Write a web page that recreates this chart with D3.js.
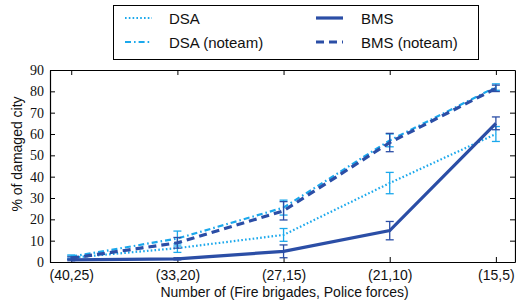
<!DOCTYPE html>
<html>
<head>
<meta charset="utf-8">
<script src="https://cdn.jsdelivr.net/npm/d3@7"></script>
<style>
  body { margin: 0; background: white; }
  svg { display: block; }
</style>
</head>
<body>
<div id="chart"></div>
<script>
// categories on the x axis
var categories = ["(40,25)", "(33,20)", "(27,15)", "(21,10)", "(15,5)"];
var yTicks = [0, 10, 20, 30, 40, 50, 60, 70, 80, 90];

// series values and their error bars
var dsa = [2, 6.5, 12.7, 37, 60];
var dsaErr = [0.8, 2, 3, 5, 3.5];
var dsaNoteam = [2.5, 11, 25.5, 57, 82];
var dsaNoteamErr = [0.8, 3.5, 3.5, 3, 1.5];
var bms = [1, 1.5, 5, 14.7, 65];
var bmsErr = [0.4, 0.5, 3, 4.3, 3];
var bmsNoteam = [1.8, 9, 24, 56, 81.4];
var bmsNoteamErr = [0.6, 2.5, 4.3, 4.3, 1.5];

var lightBlue = "#1ba8ec";
var darkBlue = "#2b4ea6";

var series = [
    {name: "DSA", values: dsa, err: dsaErr, color: lightBlue, width: 2.2, dash: "1.6,2.2"},
    {name: "DSA (noteam)", values: dsaNoteam, err: dsaNoteamErr, color: lightBlue, width: 2.2, dash: "6,3,1.6,3"},
    {name: "BMS", values: bms, err: bmsErr, color: darkBlue, width: 3.2, dash: null},
    {name: "BMS (noteam)", values: bmsNoteam, err: bmsNoteamErr, color: darkBlue, width: 3.2, dash: "8,5"}
];

var width = 516, height = 303;
var margin = {left: 50, right: 1, top: 70, bottom: 41};

var svg = d3.select("#chart").append("svg")
    .attr("width", width).attr("height", height);

var x = d3.scaleLinear().domain([-0.2, 4.18]).range([margin.left, width - margin.right]);
var y = d3.scaleLinear().domain([0, 90]).range([height - margin.bottom, margin.top]);

var plotW = width - margin.left - margin.right;
var plotH = height - margin.top - margin.bottom;

//axes with inward ticks on all four sides
var idx = d3.range(categories.length);
var bottom = svg.append("g")
    .attr("transform", "translate(0," + y(0) + ")")
    .call(d3.axisBottom(x).tickValues(idx).tickSizeInner(-5).tickSizeOuter(0).tickPadding(8)
        .tickFormat(function(i) { return categories[i]; }));
var top = svg.append("g")
    .attr("transform", "translate(0," + y(90) + ")")
    .call(d3.axisTop(x).tickValues(idx).tickSizeInner(-5).tickSizeOuter(0).tickFormat(""));
var left = svg.append("g")
    .attr("transform", "translate(" + margin.left + ",0)")
    .call(d3.axisLeft(y).tickValues(yTicks).tickSizeInner(-5).tickSizeOuter(0).tickPadding(6));
var right = svg.append("g")
    .attr("transform", "translate(" + (width - margin.right) + ",0)")
    .call(d3.axisRight(y).tickValues(yTicks).tickSizeInner(-5).tickSizeOuter(0).tickFormat(""));

svg.selectAll(".domain").attr("stroke", "#000").attr("stroke-width", 1.2);
svg.selectAll(".tick line").attr("stroke", "#000").attr("stroke-width", 1);

bottom.selectAll("text")
    .attr("font-family", "'Liberation Sans', Arial, sans-serif")
    .attr("font-size", 14).attr("fill", "#111");
left.selectAll("text")
    .attr("font-family", "'Liberation Serif', 'Times New Roman', serif")
    .attr("font-size", 14).attr("fill", "#111");

//axis titles
svg.append("text")
    .attr("x", (margin.left + width - margin.right) / 2 + 2)
    .attr("y", 297)
    .attr("text-anchor", "middle")
    .attr("font-family", "'Liberation Sans', Arial, sans-serif")
    .attr("font-size", 14)
    .attr("fill", "#111")
    .text("Number of (Fire brigades, Police forces)");

svg.append("text")
    .attr("transform", "translate(22," + (margin.top + plotH / 2 - 12) + ") rotate(-90)")
    .attr("text-anchor", "middle")
    .attr("font-family", "'Liberation Sans', Arial, sans-serif")
    .attr("font-size", 14)
    .attr("fill", "#111")
    .text("% of damaged city");

//lines
var line = d3.line()
    .x(function(d, i) { return x(i); })
    .y(function(d) { return y(d); });

var plot = svg.append("g");

series.forEach(function(s) {
    //error bars
    var eb = plot.append("g");
    s.values.forEach(function(v, i) {
        var cx = x(i), y1 = y(v - s.err[i]), y2 = y(v + s.err[i]);
        eb.append("line").attr("x1", cx).attr("x2", cx).attr("y1", y1).attr("y2", y2)
            .attr("stroke", s.color).attr("stroke-width", 1.3);
        [y1, y2].forEach(function(yy) {
            eb.append("line").attr("x1", cx - 4).attr("x2", cx + 4).attr("y1", yy).attr("y2", yy)
                .attr("stroke", s.color).attr("stroke-width", 1.3);
        });
    });
    plot.append("path")
        .datum(s.values)
        .attr("d", line)
        .attr("fill", "none")
        .attr("stroke", s.color)
        .attr("stroke-width", s.width)
        .attr("stroke-dasharray", s.dash);
});

//legend
var legend = svg.append("g");
legend.append("rect")
    .attr("x", 113.5).attr("y", 5.5).attr("width", 365).attr("height", 54)
    .attr("fill", "white").attr("stroke", "#000").attr("stroke-width", 1);

var legendPos = [
    {lx: 125, tx: 169, y: 18},
    {lx: 125, tx: 169, y: 42},
    {lx: 316, tx: 361, y: 18},
    {lx: 316, tx: 361, y: 42}
];
series.forEach(function(s, i) {
    var p = legendPos[i];
    legend.append("line")
        .attr("x1", p.lx).attr("x2", p.lx + 27).attr("y1", p.y).attr("y2", p.y)
        .attr("stroke", s.color).attr("stroke-width", s.width)
        .attr("stroke-dasharray", s.dash);
    legend.append("text")
        .attr("x", p.tx).attr("y", p.y + 5.5)
        .attr("font-family", "'Liberation Sans', Arial, sans-serif")
        .attr("font-size", 15)
        .attr("fill", "#111")
        .text(s.name);
});
</script>
</body>
</html>
